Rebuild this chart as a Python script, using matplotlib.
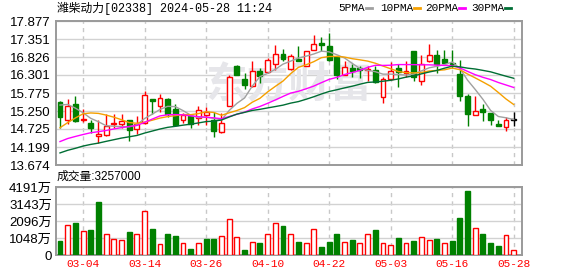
import numpy as np
import matplotlib.pyplot as plt
from matplotlib.lines import Line2D

plt.rcParams['font.family'] = ['Liberation Sans', 'Noto Sans CJK SC']

# trading days shown (HK market, 2024)
dates = ['02-28', '02-29', '03-01', '03-04', '03-05', '03-06', '03-07', '03-08', '03-11', '03-12',
         '03-13', '03-14', '03-15', '03-18', '03-19', '03-20', '03-21', '03-22', '03-25', '03-26',
         '03-27', '03-28', '04-02', '04-03', '04-05', '04-08', '04-09', '04-10', '04-11', '04-12',
         '04-15', '04-16', '04-17', '04-18', '04-19', '04-22', '04-23', '04-24', '04-25', '04-26',
         '04-29', '04-30', '05-02', '05-03', '05-06', '05-07', '05-08', '05-09', '05-10', '05-13',
         '05-14', '05-16', '05-17', '05-20', '05-21', '05-22', '05-23', '05-24', '05-27', '05-28']

# closes before the window, estimated from where the MA lines start
pre_close = [13.10, 13.22, 13.05, 13.30, 13.41, 13.28, 13.45, 13.52, 13.60, 13.71,
             13.62, 13.75, 13.88, 13.70, 13.95, 14.10, 14.02, 14.18, 14.05, 14.29,
             13.90, 13.60, 13.80, 14.50, 14.70, 15.30, 15.50, 15.70, 15.55]

opens = [15.51, 15.00, 15.46, 14.99, 14.90, 14.51, 14.55, 14.87, 14.86, 14.99,
         14.73, 14.91, 15.61, 15.39, 15.61, 15.32, 14.99, 15.10, 15.05, 15.12,
         14.99, 14.64, 15.39, 16.56, 16.19, 15.98, 16.41, 16.39, 16.61, 16.92,
         16.49, 16.77, 16.56, 17.02, 17.24, 17.14, 16.82, 16.30, 16.51, 16.51,
         16.44, 16.46, 15.66, 16.17, 16.51, 16.37, 17.00, 16.12, 16.72, 16.88,
         16.76, 16.65, 16.33, 15.69, 15.13, 15.32, 15.20, 14.88, 14.79, 15.00]
highs = [15.55, 15.59, 15.69, 15.32, 15.00, 14.98, 15.15, 15.15, 15.15, 15.00,
         15.10, 15.83, 15.61, 15.75, 15.62, 15.44, 15.18, 15.15, 15.39, 15.37,
         15.22, 15.18, 16.30, 16.60, 16.36, 16.70, 16.51, 16.80, 17.19, 17.06,
         16.92, 17.14, 17.00, 17.46, 17.40, 17.53, 16.82, 16.70, 16.61, 16.56,
         16.56, 16.56, 16.25, 16.68, 16.61, 16.72, 17.00, 16.88, 17.21, 17.02,
         17.02, 17.02, 16.73, 15.75, 15.69, 15.44, 15.20, 15.00, 15.07, 15.22]
lows = [14.76, 14.88, 14.93, 14.94, 14.62, 14.33, 14.52, 14.76, 14.76, 14.38,
        14.57, 14.88, 15.15, 15.22, 15.08, 14.80, 14.91, 14.74, 14.84, 14.84,
        14.49, 14.62, 15.39, 16.31, 15.88, 15.95, 16.07, 16.36, 16.46, 16.70,
        16.45, 16.70, 16.55, 17.02, 17.00, 16.72, 16.17, 16.29, 16.24, 16.22,
        16.12, 16.07, 15.47, 16.15, 15.95, 16.24, 16.14, 16.02, 16.68, 16.36,
        16.61, 16.51, 15.54, 14.81, 15.13, 14.96, 14.84, 14.81, 14.67, 14.81]
closes = [15.07, 15.39, 14.96, 15.02, 14.74, 14.57, 14.81, 14.89, 14.96, 14.71,
          14.88, 15.71, 15.53, 15.64, 15.17, 14.84, 15.13, 14.86, 15.28, 15.23,
          14.68, 14.89, 16.25, 16.31, 16.02, 16.41, 16.27, 16.73, 16.90, 16.78,
          16.85, 16.72, 17.00, 17.22, 17.19, 16.75, 16.30, 16.53, 16.43, 16.45,
          16.48, 16.10, 16.17, 16.43, 16.39, 16.41, 16.24, 16.63, 16.88, 16.61,
          16.66, 16.62, 15.69, 15.17, 15.25, 15.22, 15.00, 14.81, 14.98, 15.00]

# volume in 万 shares
volume_wan = [861, 1844, 1967, 1475, 1537, 3258, 1291, 963, 922, 1414,
              1291, 2705, 1598, 676, 1291, 1168, 738, 369, 738, 984,
              984, 1168, 2192, 1106, 307, 779, 738, 1270, 1947, 1783,
              1270, 799, 717, 1578, 492, 799, 1291, 779, 922, 717,
              1270, 1537, 717, 594, 1045, 717, 861, 1086, 902, 984,
              717, 861, 2274, 3934, 1639, 1291, 738, 553, 1209, 325.7]

price_ticks = [13.674, 14.199, 14.725, 15.250, 15.775, 16.301, 16.826, 17.351, 17.877]
vol_ticks = [0, 1048, 2096, 3143, 4191]
date_ticks = ['03-04', '03-14', '03-26', '04-10', '04-22', '05-03', '05-16', '05-28']

ma_periods = [5, 10, 20, 30]
ma_colors = ['#a0a0a0', '#f5a000', '#ff00ff', '#006e34']

RED = '#ff0000'
GREEN = '#008000'
GRID = '#d2d2d2'
FRAME = '#9a9a9a'

W, H = 578, 276
fig = plt.figure(figsize=(W / 100, H / 100), dpi=100)
ax = fig.add_axes([56 / W, 1 - 165 / H, 466 / W, 144 / H])
axv = fig.add_axes([56 / W, 1 - 255 / H, 466 / W, 68 / H])

o = np.array(opens)
h = np.array(highs)
l = np.array(lows)
c = np.array(closes)
x = np.arange(len(c))

edge = np.where(c > o, RED, np.where(c < o, GREEN, 'black'))
face = np.where(c > o, 'white', edge)
body_low = np.minimum(o, c)
body_h = np.maximum(np.abs(c - o), 0.012)

ax.vlines(x, l, h, colors=edge, linewidth=1, zorder=2)
ax.bar(x, body_h, bottom=body_low, width=0.64, color=face, edgecolor=edge, linewidth=1, zorder=3)

all_close = pd_close = np.array(pre_close + closes)
for n, col in zip(ma_periods, ma_colors):
    ma = np.convolve(all_close, np.ones(n) / n, mode='valid')[-len(c):]
    ax.plot(x, ma, color=col, linewidth=1, zorder=4)

# volume bars coloured by change versus previous close
prev = np.concatenate([[pre_close[-1]], c[:-1]])
vcol = np.where(c >= prev, RED, GREEN)
vface = np.where(c >= prev, 'white', GREEN)
axv.bar(x, volume_wan, width=0.64, color=vface, edgecolor=vcol, linewidth=1, zorder=3)

tick_idx = [dates.index(d) for d in date_ticks]
for a in (ax, axv):
    a.set_xlim(-0.52, 60.08)
    for s in a.spines.values():
        s.set_color(FRAME)
        s.set_linewidth(1.4)
    a.tick_params(length=0)
    a.grid(axis='y', color=GRID, linewidth=1, zorder=0)
    for t in tick_idx:
        a.axvline(t, color='#c8c8c8', linewidth=1, linestyle=(0, (3, 3)), zorder=0)
    a.set_axisbelow(True)

ax.set_ylim(price_ticks[0], price_ticks[-1])
ax.set_yticks(price_ticks)
ax.set_yticklabels(['%.3f' % v for v in price_ticks], fontsize=9.5)
ax.set_xticks([])
ax.tick_params(axis='y', pad=4)

axv.set_ylim(0, vol_ticks[-1])
axv.set_yticks(vol_ticks)
axv.set_yticklabels([str(v) + ('万' if v else '') for v in vol_ticks], fontsize=9.5)
axv.tick_params(axis='y', pad=3)
axv.set_xticks(tick_idx)
axv.set_xticklabels(date_ticks, color=RED, fontsize=8, family='Liberation Mono')
axv.tick_params(axis='x', pad=3)

# watermark
ax.text(0.5, 0.56, '东方财富', transform=ax.transAxes, ha='center', va='center',
        fontsize=30, fontweight='bold', color='#e6e6ea', zorder=1,
        family=['Noto Sans CJK SC'])

fig.text(57 / W, 1 - 8 / H, '潍柴动力[02338] 2024-05-28 11:24', ha='left', va='center',
         fontsize=8.5, family=['Liberation Mono', 'Noto Sans CJK SC'])
fig.text(57 / W, 1 - 177 / H, '成交量:%d' % round(volume_wan[-1] * 10000), ha='left', va='center',
         fontsize=8.5, family=['Liberation Sans', 'Noto Sans CJK SC'])

# MA legend
leg_x = [338, 380, 425, 471]
for n, col, lx in zip(ma_periods, ma_colors, leg_x):
    t = fig.text(lx / W, 1 - 8 / H, '%dPMA' % n, ha='left', va='center', fontsize=8,
                 family='Liberation Mono')
    mx = lx + 6.2 * len('%dPMA' % n) + 3
    fig.add_artist(Line2D([mx / W, (mx + 6) / W], [1 - 8 / H, 1 - 8 / H], color=col, linewidth=2))

fig.savefig('out.png', dpi=100)
